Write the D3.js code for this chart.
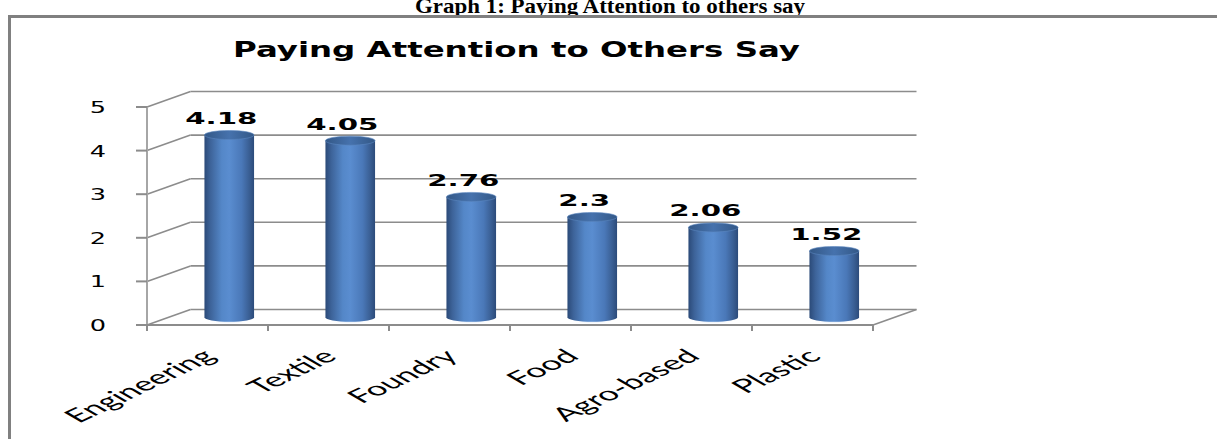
<!DOCTYPE html>
<html>
<head>
<meta charset="utf-8">
<script src="https://cdn.jsdelivr.net/npm/d3@7"></script>
<style>
  html, body { margin: 0; padding: 0; background: #ffffff; }
  svg { display: block; }
</style>
</head>
<body>
<svg id="chart" width="1217" height="439"></svg>
<script>
// ---- data ----
const headerText = "Graph 1: Paying Attention to others say";
const chartTitle = "Paying Attention to Others Say";
const categories = ["Engineering", "Textile", "Foundry", "Food", "Agro-based", "Plastic"];
const values = [4.18, 4.05, 2.76, 2.3, 2.06, 1.52];
const yTicks = [0, 1, 2, 3, 4, 5];

// ---- layout ----
const W = 1217, H = 439;
const svg = d3.select("#chart");
const DX = 43.5, DY = -15.5; // 3-D depth offset

const x = d3.scaleBand().domain(categories).range([147, 873]).padding(0);
const y = d3.scaleLinear().domain([0, 5]).range([325, 107]);

const defs = svg.append("defs");
const bodyGrad = defs.append("linearGradient").attr("id", "body").attr("x1", 0).attr("x2", 1).attr("y1", 0).attr("y2", 0);
[[0, "#2b4a78"], [0.12, "#3d6399"], [0.35, "#5487c8"], [0.5, "#5a8dd0"], [0.75, "#4a78b8"], [0.9, "#3a5f94"], [1, "#2c4b7a"]]
  .forEach(([o, c]) => bodyGrad.append("stop").attr("offset", o).attr("stop-color", c));
const topGrad = defs.append("linearGradient").attr("id", "topg").attr("x1", 0).attr("x2", 1).attr("y1", 0).attr("y2", 0);
[[0, "#335887"], [0.5, "#4672ad"], [1, "#335887"]]
  .forEach(([o, c]) => topGrad.append("stop").attr("offset", o).attr("stop-color", c));
const glowGrad = defs.append("radialGradient").attr("id", "glow");
[[0, "#b8cdea", 1], [1, "#ffffff", 0]]
  .forEach(([o, c, op]) => glowGrad.append("stop").attr("offset", o).attr("stop-color", c).attr("stop-opacity", op));

// ---- header (document caption, cut at the top like the source) ----
svg.append("text")
  .attr("x", 415).attr("y", 13)
  .attr("font-family", "Liberation Serif, serif")
  .attr("font-weight", "bold")
  .attr("font-size", 21)
  .attr("textLength", 390)
  .attr("lengthAdjust", "spacingAndGlyphs")
  .attr("fill", "#000")
  .text(headerText);

// ---- outer frame ----
svg.append("rect")
  .attr("x", 9.5).attr("y", 16.5).attr("width", W + 40).attr("height", H + 40)
  .attr("fill", "none").attr("stroke", "#808080").attr("stroke-width", 3);

// ---- chart title ----
svg.append("text")
  .attr("x", 233).attr("y", 57)
  .attr("font-family", "DejaVu Sans, sans-serif")
  .attr("font-weight", "bold")
  .attr("font-size", 22)
  .attr("textLength", 567)
  .attr("lengthAdjust", "spacingAndGlyphs")
  .attr("fill", "#000")
  .text(chartTitle);

const x0 = x.range()[0], x1 = x.range()[1];
const grid = svg.append("g").attr("stroke", "#8c8c8c").attr("stroke-width", 1.6).attr("fill", "none");

// back wall gridlines
grid.selectAll("line.back").data(yTicks).join("line").attr("class", "back")
  .attr("x1", x0 + DX).attr("x2", x1 + DX)
  .attr("y1", d => y(d) + DY).attr("y2", d => y(d) + DY);
// side wall gridlines
grid.selectAll("line.side").data(yTicks).join("line").attr("class", "side")
  .attr("x1", x0).attr("x2", x0 + DX)
  .attr("y1", d => y(d)).attr("y2", d => y(d) + DY);
// floor right edge
grid.append("line").attr("x1", x1).attr("y1", y(0)).attr("x2", x1 + DX).attr("y2", y(0) + DY);

// y axis
const axisG = svg.append("g").attr("stroke", "#8c8c8c").attr("stroke-width", 2);
axisG.append("line").attr("x1", x0).attr("x2", x0).attr("y1", y(5)).attr("y2", y(0)).attr("stroke", "#a6a6a6");
axisG.selectAll("line.yt").data(yTicks).join("line").attr("class", "yt")
  .attr("x1", x0 - 11).attr("x2", x0).attr("y1", d => y(d)).attr("y2", d => y(d));
// x axis
axisG.append("line").attr("x1", x0).attr("x2", x1).attr("y1", y(0)).attr("y2", y(0));
const bounds = categories.map(c => x(c)).concat([x1]);
axisG.selectAll("line.xt").data(bounds).join("line").attr("class", "xt")
  .attr("x1", d => d).attr("x2", d => d).attr("y1", y(0)).attr("y2", y(0) + 6);

// y tick labels
svg.append("g").selectAll("text").data(yTicks).join("text")
  .attr("transform", d => `translate(98,${y(d) + 6}) scale(1.6,1)`)
  .attr("text-anchor", "middle")
  .attr("font-family", "DejaVu Sans, sans-serif")
  .attr("font-size", 16)
  .attr("fill", "#000")
  .text(d => d);

// ---- bars (cylinders) ----
const bw = x.bandwidth() * 0.41;
const ry = 4.5;
const bars = svg.append("g").selectAll("g").data(categories).join("g");
const cx = c => x(c) + x.bandwidth() / 2 + DX / 2;
const val = c => values[categories.indexOf(c)];

bars.append("ellipse")
  .attr("cx", c => cx(c)).attr("cy", y(0) + DY / 2 + 3)
  .attr("rx", bw * 0.45).attr("ry", 4).attr("fill", "url(#glow)");
bars.append("path")
  .attr("d", c => {
    const l = cx(c) - bw / 2, r = cx(c) + bw / 2;
    const t = y(val(c)) + DY / 2, b = y(0) + DY / 2;
    return `M${l},${t} L${l},${b} A${bw / 2},${ry} 0 0 0 ${r},${b} L${r},${t} Z`;
  })
  .attr("fill", "url(#body)");
bars.append("ellipse")
  .attr("cx", c => cx(c)).attr("cy", c => y(val(c)) + DY / 2)
  .attr("rx", bw / 2).attr("ry", ry)
  .attr("fill", "url(#topg)").attr("stroke", "#5b86c0").attr("stroke-width", 0.6);

// value labels
svg.append("g").selectAll("text").data(categories).join("text")
  .attr("transform", c => `translate(${cx(c) - 8},${y(val(c)) + DY / 2 - 11}) scale(1.95,1)`)
  .attr("text-anchor", "middle")
  .attr("font-family", "DejaVu Sans, sans-serif")
  .attr("font-weight", "bold")
  .attr("font-size", 15)
  .attr("fill", "#000")
  .text(c => val(c));

// category labels (rotated, then stretched like the source image)
svg.append("g").selectAll("text").data(categories).join("text")
  .attr("transform", c => `translate(${x(c) + x.bandwidth() / 2 + 10},358) scale(1.9,1) rotate(-42)`)
  .attr("text-anchor", "end")
  .attr("font-family", "Lato, sans-serif")
  .attr("font-size", 19)
  .attr("fill", "#000")
  .text(c => c);
</script>
</body>
</html>
